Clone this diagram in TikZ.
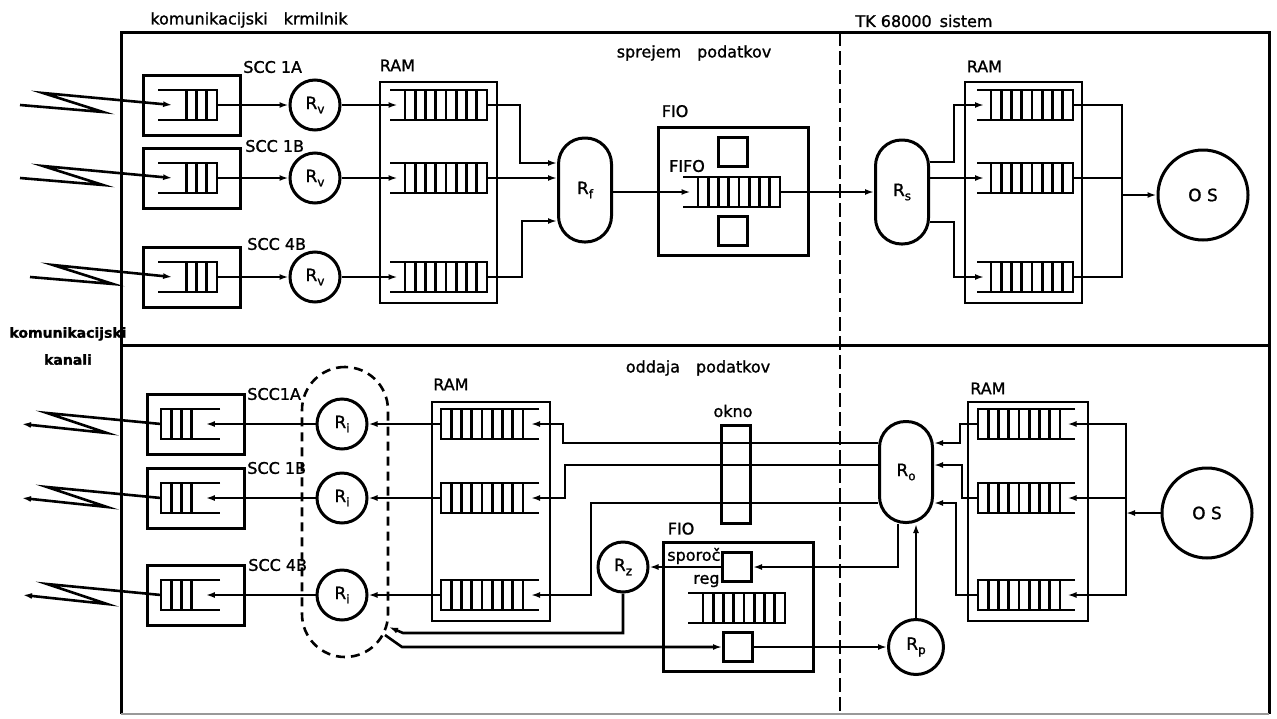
\documentclass[tikz,border=0pt]{standalone}
\usepackage{fontspec}
\setmainfont[FakeBold=1.2]{DejaVu Sans}
\usetikzlibrary{arrows.meta,positioning}
\newcommand{\idx}[1]{\raisebox{-0.45ex}{\fontsize{12}{12}\selectfont #1}}

\tikzset{
  pics/qr/.style 2 args={code={% cells right, open left
    \draw (-#1,-15) -- (0,-15) -- (0,15) -- (-#1,15);
    \foreach \k in {1,...,#2} \draw (-\k*10.25,-15) -- ++(0,30);
    \coordinate (-in) at ({-(#1+#2*10.25)/2},0);
    \coordinate (-out) at (0,0);
  }},
  pics/ql/.style 2 args={code={% cells left, open right
    \draw (#1,-15) -- (0,-15) -- (0,15) -- (#1,15);
    \foreach \k in {1,...,#2} \draw (\k*10.25,-15) -- ++(0,30);
    \coordinate (-in) at ({(#1+#2*10.25)/2},0);
    \coordinate (-out) at (0,0);
  }}
}

\begin{document}
\begin{tikzpicture}[x=1pt,y=-1pt,line width=2.6pt,
  every node/.style={font=\fontsize{16}{19}\selectfont},
  lbl/.style={inner sep=0pt},
  unit/.style={draw,line width=3pt,minimum width=97,minimum height=60,inner sep=0pt},
  ram/.style={draw,line width=2pt,minimum width=117,minimum height=221,inner sep=0pt},
  proc/.style={circle,draw,line width=3pt,minimum size=50,inner sep=0pt,font=\fontsize{17}{19}\selectfont},
  sched/.style={draw,line width=3pt,rounded corners=26,minimum width=53,minimum height=104,inner sep=0pt,font=\fontsize{17}{19}\selectfont},
  reg/.style={draw,line width=3pt,minimum size=29,inner sep=0pt},
  arr/.style={-{Latex[length=9pt,width=6pt]}},
  frame/.style={line width=3pt}]
\useasboundingbox (0,0) rectangle (1277,718);

% okvir
\draw[frame] (121,714) -- (121,32) -- (1269,32) -- (1269,714);
\draw[frame] (121,345) -- (1269,345);
\draw[line width=1.4pt,black!40] (121,714) -- (1269,714);
\draw[line width=2.2pt,dash pattern=on 14pt off 5pt] (840,32) -- (840,714);

\node[lbl] (hkrm) at (249,20) {komunikacijski\quad krmilnik};
\node[lbl] (htk) at (924,21) {TK 68000\enspace sistem};
\node[lbl] (hspr) at (694,53) {sprejem\quad podatkov};
\node[lbl] (hodd) at (698,368) {oddaja\quad podatkov};
\node[lbl,align=center,font=\bfseries\fontsize{14}{16}\selectfont] (hkan) at (68,346) {komunikacijski\\[11pt]kanali};

% sprejem
\foreach \i/\y/\x in {1/105/20,2/178/20,3/277/30} {
  \node[unit] (rscc\i) at (192,\y) {};
  \pic (rq\i) at (217,\y) {qr={59}{3}};
  \node[proc] (rv\i) at (315,\y) {R\idx{v}};
  \pic (ra\i) at (487,\y) {qr={97}{8}};
  \pic (rb\i) at (1073,\y) {qr={96}{8}};
  \coordinate (rk\i) at (\x,\y);
  \draw[arr] (rk\i) -- ++(83,7) -- ++(-60,-19) -- (rq\i-in);
  \draw[arr] (rq\i-out) -- (rv\i);
  \draw[arr] (rv\i) -- (ra\i-in);
}
\node[lbl,anchor=west] (lrscc1) at (242,67) {SCC 1A};
\node[lbl,anchor=west] (lrscc2) at (244,146) {SCC 1B};
\node[lbl,anchor=west] (lrscc3) at (246,244) {SCC 4B};

\node[ram] (rram) at (438,192) {};
\node[lbl,anchor=south west] (lrram) at ([yshift=8]rram.north west) {RAM};
\node[sched] (rf) at (585,190) {R\idx{f}};
\draw[arr] (ra1-out) -- ++(33,0) |- ([yshift=27]rf.west);
\draw[arr] (ra2-out) -- (rf.west |- ra2-out);
\draw[arr] (ra3-out) -- ++(35,0) |- ([yshift=-31]rf.west);

\node[unit,minimum width=150,minimum height=128] (rfio) at (733,191) {};
\node[lbl,anchor=south west] (lrfio) at ([xshift=4,yshift=7]rfio.north west) {FIO};
\node[reg] (rsq1) at (733,152) {};
\node[reg] (rsq2) at (733,231) {};
\pic (rff) at (780,192) {qr={97}{8}};
\node[lbl] (lrff) at (687,166) {FIFO};
\draw[arr] (rf.east |- rff-in) -- (rff-in);

\node[sched] (rs) at (902,192) {R\idx{s}};
\draw[arr] (rff-out) -- (rs.west |- rff-out);
\draw[arr] ([yshift=30]rs.east) -- ++(24,0) |- (rb1-in);
\draw[arr] ([yshift=14]rs.east) -- (rb2-in);
\draw[arr] ([yshift=-30]rs.east) -- ++(24,0) |- (rb3-in);

\node[ram] (rram2) at (1023,192) {};
\node[lbl,anchor=south west] (lrram2) at ([xshift=2,yshift=7]rram2.north west) {RAM};
\node[proc,minimum size=90] (ros) at (1203,195) {O S};
\coordinate (rj) at (1122,195);
\foreach \i in {1,2,3} \draw (rb\i-out) -| (rj);
\draw[arr] (rj) -- (ros);

% oddaja
\foreach \i/\y/\x in {1/424/22,2/498/22,3/595/23} {
  \node[unit] (tscc\i) at (196,\y) {};
  \pic (tq\i) at (161,\y) {ql={59}{3}};
  \node[proc] (ri\i) at (342,\y) {R\idx{i}};
  \pic (ta\i) at (441,\y) {ql={98}{8}};
  \pic (tb\i) at (978,\y) {ql={97}{8}};
  \coordinate (tk\i) at (\x,\y);
  \draw[arr] (tq\i-out) -- ++(-114,-11) -- ++(60,20) -- (tk\i);
  \draw[arr] (ri\i) -- (tq\i-in);
  \draw[arr] (ta\i-out) -- (ri\i);
}
\node[lbl,anchor=west] (ltscc1) at (246,394) {SCC1A};
\node[lbl,anchor=west] (ltscc2) at (246,468) {SCC 1B};
\node[lbl,anchor=west] (ltscc3) at (247,565) {SCC 4B};
\node[draw,line width=2.6pt,dash pattern=on 9pt off 6pt,rounded corners=43,minimum width=86,minimum height=290] (grp) at (345,512) {};

\node[ram,minimum width=118,minimum height=219] (tram) at (491,511) {};
\node[lbl,anchor=south west] (ltram) at ([xshift=1,yshift=9]tram.north west) {RAM};
\node[ram,minimum width=120,minimum height=219] (tram2) at (1028,511) {};
\node[lbl,anchor=south west] (ltram2) at ([xshift=2,yshift=5]tram2.north west) {RAM};

\node[draw,line width=3pt,minimum width=29,minimum height=98,inner sep=0pt] (okno) at (736,474) {};
\node[lbl,anchor=south] (lokno) at ([xshift=-3,yshift=5]okno.north) {okno};

\node[sched,minimum height=101] (ro) at (906,472) {R\idx{o}};
\draw[arr] ([yshift=29]ro.west) -| ([xshift=32]ta1-in) -- (ta1-in);
\draw[arr] ([yshift=7]ro.west) -| ([xshift=34]ta2-in) -- (ta2-in);
\draw[arr] ([yshift=-31]ro.west) -| ([xshift=60]ta3-in) -- (ta3-in);
\draw[arr] (tb1-out) -- ++(-18,0) |- ([yshift=29]ro.east);
\draw[arr] (tb2-out) -- ++(-16,0) |- ([yshift=7]ro.east);
\draw[arr] (tb3-out) -- ++(-22,0) |- ([yshift=-31]ro.east);

\node[proc,minimum size=90] (tos) at (1207,513) {O S};
\coordinate (tj) at (1126,513);
\draw[arr] (tos) -- (tj);
\foreach \i in {1,2,3} \draw[arr] (tj) |- (tb\i-in);

\node[unit,minimum width=150,minimum height=129] (tfio) at (738,607) {};
\node[lbl,anchor=south west] (ltfio) at ([xshift=5,yshift=5]tfio.north west) {FIO};
\node[reg] (tsq1) at (737,567) {};
\node[reg] (tsq2) at (738,647) {};
\pic (tff) at (785,608) {qr={97}{8}};
\node[lbl,anchor=west] (lspo) at (666,556) {sporoč};
\node[lbl,anchor=west] (lreg) at (692,581) {reg};
\node[proc] (rz) at (623,567) {R\idx{z}};
\node[proc,minimum size=55] (rp) at (916,647) {R\idx{p}};
\coordinate (g1) at (389,627);
\coordinate (g2) at (385,635);
\draw[arr] ([xshift=-8]ro.south) |- (tsq1);
\draw[arr] (tsq1) -- (rz);
\draw[arr] (rz) |- ([xshift=14,yshift=-6]g1) -- (g1);
\draw[arr] (g2) -- ++(17,12) -- (tsq2);
\draw[arr] (tsq2) -- (rp);
\draw[arr] (rp) -- (rp |- ro.south);
\end{tikzpicture}
\end{document}
